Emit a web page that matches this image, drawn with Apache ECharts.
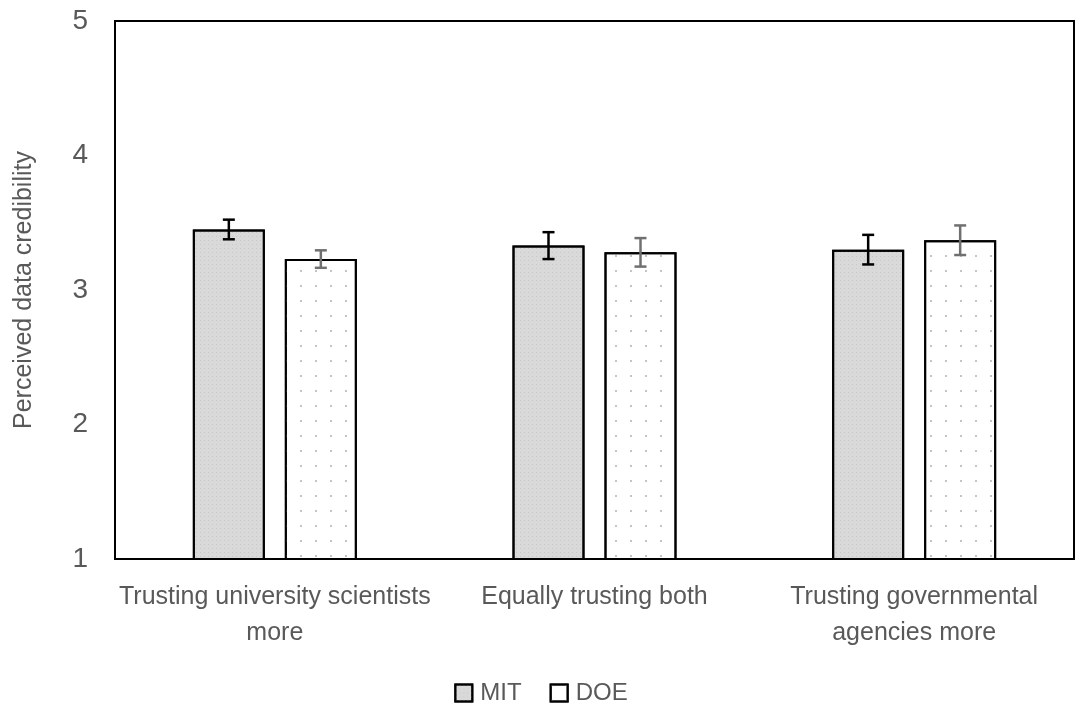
<!DOCTYPE html>
<html>
<head>
<meta charset="utf-8">
<script src="https://cdn.jsdelivr.net/npm/echarts@6/dist/echarts.min.js"></script>
<style>html,body{margin:0;padding:0;background:#fff;}#c{width:1082px;height:704px;}</style>
</head>
<body>
<div id="c"></div>
<script>
const categories = ['Trusting university scientists\nmore', 'Equally trusting both', 'Trusting governmental\nagencies more'];
const seriesNames = ['MIT', 'DOE'];
const mitValues = [3.45, 3.33, 3.30];
const mitErrors = [0.073, 0.10, 0.11];
const doeValues = [3.23, 3.28, 3.37];
const doeErrors = [0.065, 0.106, 0.11];
const yTicks = [1, 2, 3, 4, 5];

const FONT = '"Liberation Sans Narrow", "Liberation Sans", Arial, sans-serif';
const TEXT = '#595959';
const BAR_W = 72, GAP = 20;

function errSeries(values, errors, sign, color) {
  return {
    type: 'custom',
    silent: true,
    z: 10,
    data: values.map((v, i) => [i, v, errors[i]]),
    renderItem: function (params, api) {
      const i = api.value(0), v = api.value(1), e = api.value(2);
      const off = sign * (BAR_W + GAP) / 2;
      const hi = api.coord([i, v + e]);
      const lo = api.coord([i, v - e]);
      const x = hi[0] + off, cap = 6;
      const st = { stroke: color, lineWidth: 2.5 };
      return {
        type: 'group',
        children: [
          { type: 'line', shape: { x1: x, y1: hi[1], x2: x, y2: lo[1] }, style: st },
          { type: 'line', shape: { x1: x - cap, y1: hi[1], x2: x + cap, y2: hi[1] }, style: st },
          { type: 'line', shape: { x1: x - cap, y1: lo[1], x2: x + cap, y2: lo[1] }, style: st }
        ]
      };
    }
  };
}

const chart = echarts.init(document.getElementById('c'));
chart.setOption({
  animation: false,
  textStyle: { fontFamily: FONT },
  grid: { left: 115, right: 8, top: 21, bottom: 145, outerBoundsMode: 'none', containLabel: false, show: true, borderColor: '#000', borderWidth: 2, backgroundColor: 'transparent' },
  legend: {
    top: 676, left: 'center',
    data: seriesNames,
    icon: 'rect',
    itemWidth: 17, itemHeight: 17, itemGap: 28,
    textStyle: { color: TEXT, fontSize: 24, fontFamily: FONT, padding: [0, 0, 0, 3] }
  },
  xAxis: {
    type: 'category',
    data: categories,
    axisLine: { show: true, lineStyle: { color: '#000', width: 2 } },
    axisTick: { show: false },
    axisLabel: { color: TEXT, fontSize: 25, lineHeight: 36, margin: 20, interval: 0, fontFamily: FONT }
  },
  yAxis: {
    type: 'value',
    min: yTicks[0], max: yTicks[yTicks.length - 1], interval: 1,
    name: 'Perceived data credibility',
    nameLocation: 'middle', nameGap: 78, nameRotate: 90,
    nameTextStyle: { color: TEXT, fontSize: 25, fontFamily: FONT },
    axisLine: { show: false },
    axisTick: { show: false },
    splitLine: { show: false },
    axisLabel: { color: TEXT, fontSize: 28, margin: 27, fontFamily: FONT }
  },
  series: [
    {
      name: 'MIT', type: 'bar', data: mitValues,
      barWidth: BAR_W, barGap: (GAP / BAR_W * 100) + '%',
      itemStyle: {
        color: '#d9d9d9', borderColor: '#000', borderWidth: 2,
        decal: { symbol: 'rect', symbolSize: 1, color: '#c8c8c8', dashArrayX: [[1, 3]], dashArrayY: [1, 3] }
      }
    },
    {
      name: 'DOE', type: 'bar', data: doeValues,
      barWidth: BAR_W,
      itemStyle: {
        color: '#ffffff', borderColor: '#000', borderWidth: 2,
        decal: { symbol: 'rect', symbolSize: 1, color: '#c4c4c4', dashArrayX: [[2, 13]], dashArrayY: [2, 13] }
      }
    },
    errSeries(mitValues, mitErrors, -1, '#000'),
    errSeries(doeValues, doeErrors, 1, '#707070')
  ]
});
</script>
</body>
</html>
